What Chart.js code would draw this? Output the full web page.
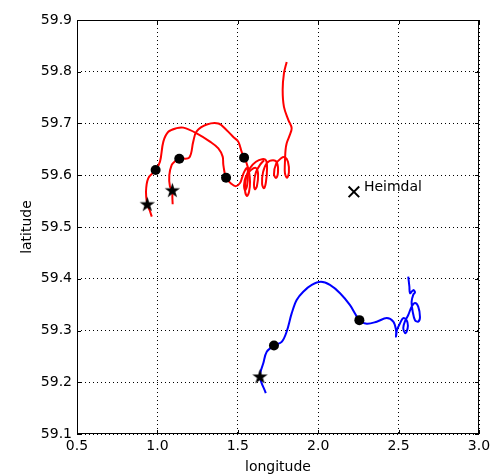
<!DOCTYPE html>
<html>
<head>
<meta charset="utf-8">
<script src="https://cdn.jsdelivr.net/npm/chart.js@4.4.1/dist/chart.umd.min.js"></script>
<style>
  html, body { margin:0; padding:0; background:#fff; }
  #wrap { width:503px; height:474px; }
</style>
</head>
<body>
<div id="wrap"><canvas id="chart" width="503" height="474"></canvas></div>
<script>
/* DATA */
const xTicks = [0.5, 1.0, 1.5, 2.0, 2.5, 3.0];
const yTicks = [59.1, 59.2, 59.3, 59.4, 59.5, 59.6, 59.7, 59.8, 59.9];

// red drift track 1
const redALon = [0.965,0.951,0.937,0.929,0.943,0.989,1.016,1.037,1.068,1.120,1.161,1.244,1.327,1.379,1.406,1.410,1.427,1.462,1.489,1.514,1.526,1.539,1.557,1.563,1.557,1.545,1.539,1.551,1.582,1.613,1.626,1.619,1.607,1.601,1.613,1.638,1.663];
const redALat = [59.520,59.533,59.544,59.568,59.594,59.610,59.626,59.665,59.684,59.691,59.692,59.681,59.665,59.652,59.636,59.620,59.595,59.583,59.579,59.585,59.595,59.606,59.614,59.600,59.579,59.571,59.581,59.598,59.610,59.614,59.602,59.579,59.573,59.585,59.606,59.620,59.629];

// red drift track 2
const redBLon = [1.095,1.093,1.093,1.078,1.074,1.089,1.109,1.136,1.198,1.223,1.244,1.307,1.379,1.431,1.472,1.503,1.524,1.539,1.554,1.570,1.576,1.570,1.557,1.545,1.551,1.576,1.613,1.651,1.675,1.682,1.675,1.663,1.651,1.657,1.682,1.719,1.744,1.750,1.738,1.725,1.738,1.769,1.793,1.812,1.818,1.806,1.793,1.793,1.797,1.804,1.820,1.835,1.814,1.787,1.779,1.787,1.804];
const redBLat = [59.544,59.558,59.571,59.578,59.600,59.620,59.627,59.632,59.634,59.665,59.685,59.698,59.700,59.687,59.674,59.665,59.645,59.634,59.624,59.606,59.587,59.568,59.560,59.571,59.595,59.614,59.626,59.631,59.629,59.614,59.587,59.575,59.583,59.606,59.624,59.629,59.624,59.606,59.595,59.602,59.622,59.633,59.635,59.626,59.606,59.595,59.604,59.624,59.649,59.662,59.675,59.691,59.707,59.732,59.765,59.797,59.819];

// blue drift track
const blueLon = [1.674,1.638,1.659,1.680,1.725,1.773,1.804,1.835,1.866,1.907,1.960,2.017,2.073,2.136,2.198,2.256,2.302,2.364,2.426,2.467,2.484,2.484,2.490,2.509,2.529,2.550,2.558,2.550,2.540,2.529,2.540,2.560,2.581,2.602,2.622,2.633,2.622,2.602,2.588,2.581,2.591,2.602,2.591,2.571,2.567,2.560];
const blueLat = [59.179,59.211,59.237,59.259,59.271,59.278,59.298,59.333,59.359,59.375,59.388,59.394,59.388,59.372,59.349,59.320,59.313,59.317,59.324,59.317,59.301,59.288,59.301,59.314,59.324,59.320,59.309,59.298,59.295,59.305,59.318,59.330,59.346,59.353,59.346,59.326,59.317,59.320,59.336,59.356,59.369,59.374,59.378,59.372,59.385,59.404];

// release points (stars) and later positions (dots)
const starLon = [0.937, 1.093, 1.638];
const starLat = [59.544, 59.571, 59.211];
const dotLon = [0.989, 1.136, 1.427, 1.539, 1.725, 2.256];
const dotLat = [59.610, 59.632, 59.595, 59.634, 59.271, 59.320];

// site
const siteLon = [2.222];
const siteLat = [59.568];
const siteName = ["Heimdal"];

const pts = (xs, ys) => xs.map((x, i) => ({ x: x, y: ys[i] }));

/* STAR MARKER */
const starImg = document.createElement("canvas");
starImg.width = 17; starImg.height = 17;
(function () {
  const c = starImg.getContext("2d");
  c.beginPath();
  for (let i = 0; i < 10; i++) {
    const r = i % 2 ? 3.1 : 8;
    const a = -Math.PI / 2 + i * Math.PI / 5;
    const px = 8.5 + r * Math.cos(a), py = 9 + r * Math.sin(a);
    i ? c.lineTo(px, py) : c.moveTo(px, py);
  }
  c.closePath();
  c.fillStyle = "#000";
  c.fill();
})();

/* FRAME, INNER TICKS, SITE LABEL */
const framePlugin = {
  id: "frame",
  afterDraw(chart) {
    const { ctx, chartArea: a, scales: { x, y } } = chart;
    ctx.save();
    ctx.strokeStyle = "#000";
    ctx.lineWidth = 1;
    ctx.strokeRect(a.left + 0.5, a.top + 0.5, a.right - a.left - 1, a.bottom - a.top - 1);
    ctx.beginPath();
    xTicks.forEach(v => {
      const px = Math.round(x.getPixelForValue(v)) + 0.5;
      ctx.moveTo(px, a.bottom); ctx.lineTo(px, a.bottom - 4);
      ctx.moveTo(px, a.top); ctx.lineTo(px, a.top + 4);
    });
    yTicks.forEach(v => {
      const py = Math.round(y.getPixelForValue(v)) + 0.5;
      ctx.moveTo(a.left, py); ctx.lineTo(a.left + 4, py);
      ctx.moveTo(a.right, py); ctx.lineTo(a.right - 4, py);
    });
    ctx.stroke();

    ctx.fillStyle = "#000";
    ctx.font = "14px 'DejaVu Sans'";
    ctx.textBaseline = "alphabetic";
    siteName.forEach((n, i) => {
      ctx.fillText(n, x.getPixelForValue(siteLon[i]) + 10, y.getPixelForValue(siteLat[i]) - 1);
    });
    ctx.restore();
  }
};

const tickFont = { family: "DejaVu Sans", size: 14 };

new Chart(document.getElementById("chart"), {
  type: "scatter",
  data: {
    datasets: [
      { data: pts(redALon, redALat), showLine: true, borderColor: "#ff0000", borderWidth: 2, pointRadius: 0, tension: 0.35, order: 2 },
      { data: pts(redBLon, redBLat), showLine: true, borderColor: "#ff0000", borderWidth: 2, pointRadius: 0, tension: 0.35, order: 2 },
      { data: pts(blueLon, blueLat), showLine: true, borderColor: "#0000ff", borderWidth: 2, pointRadius: 0, tension: 0.35, order: 2 },
      { data: pts(dotLon, dotLat), pointRadius: 5, backgroundColor: "#000", borderWidth: 0, order: 1 },
      { data: pts(starLon, starLat), pointStyle: starImg, order: 1 },
      { data: pts(siteLon, siteLat), pointStyle: "crossRot", pointRadius: 7.5, borderColor: "#000", borderWidth: 2, order: 1 }
    ]
  },
  options: {
    responsive: false,
    animation: false,
    devicePixelRatio: 1,
    layout: { padding: { left: 0, right: 24, top: 20, bottom: 0 } },
    plugins: { legend: { display: false }, tooltip: { enabled: false } },
    scales: {
      x: {
        type: "linear", min: 0.5, max: 3.0,
        afterBuildTicks: s => { s.ticks = xTicks.map(v => ({ value: v })); },
        afterFit: s => { s.height = 40; },
        ticks: { callback: v => v.toFixed(1), color: "#000", font: tickFont, padding: 4, maxRotation: 0, autoSkip: false },
        grid: { color: "#000", lineWidth: 1, drawTicks: false },
        border: { display: false, dash: [1, 3] },
        title: { display: true, text: "longitude", color: "#000", font: { family: "DejaVu Sans", size: 14, lineHeight: 1 }, padding: { top: 0, bottom: 0 } }
      },
      y: {
        type: "linear", min: 59.1, max: 59.9,
        afterBuildTicks: s => { s.ticks = yTicks.map(v => ({ value: v })); },
        afterFit: s => { s.width = 77; },
        ticks: { callback: v => v.toFixed(1), color: "#000", font: tickFont, padding: 5, autoSkip: false },
        grid: { color: "#000", lineWidth: 1, drawTicks: false },
        border: { display: false, dash: [1, 3] },
        title: { display: true, text: "latitude", color: "#000", font: tickFont, padding: { top: 19, bottom: 0 } }
      }
    }
  },
  plugins: [framePlugin]
});
</script>
</body>
</html>
